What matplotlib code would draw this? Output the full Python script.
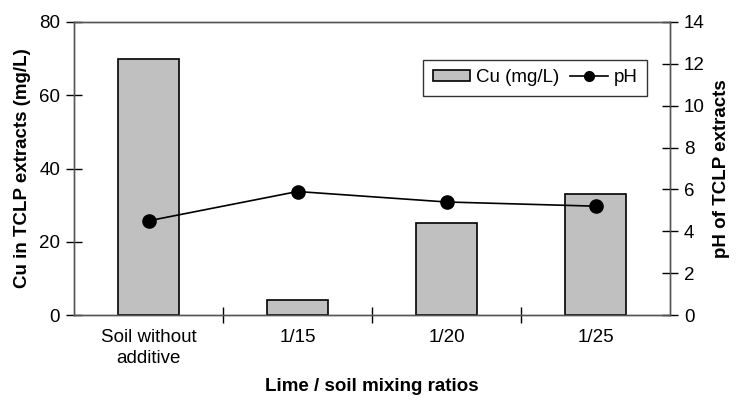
import matplotlib
matplotlib.use("Agg")
import matplotlib.pyplot as plt
from matplotlib.lines import Line2D
import numpy as np

categories = ["Soil without\nadditive", "1/15", "1/20", "1/25"]
cu_mg_l = [70, 4, 25, 33]
ph_values = [4.5, 5.9, 5.4, 5.2]

plt.rcParams["font.family"] = ["Liberation Sans", "DejaVu Sans"]

fig = plt.figure(figsize=(7.36, 4.0), dpi=100)
ax = fig.add_axes([74 / 736, 85 / 400, 596 / 736, 293 / 400])
ax2 = ax.twinx()

x = np.arange(len(categories))
bars = ax.bar(x, cu_mg_l, width=0.41, color="#c0c0c0", edgecolor="black",
              linewidth=1.2, label="Cu (mg/L)", zorder=2)
ax2.plot(x, ph_values, color="black", linewidth=1.2, marker="o",
         markersize=9.5, label="pH", zorder=3)

ax.set_xlim(-0.5, len(categories) - 0.5)
ax.set_ylim(0, 80)
ax.set_yticks(range(0, 81, 20))
ax2.set_ylim(0, 14)
ax2.set_yticks(range(0, 15, 2))

# category ticks sit on the boundaries between groups
ax.set_xticks(x)
ax.set_xticklabels(categories, fontsize=13.5, linespacing=1.3)
ax.tick_params(axis="x", length=0, pad=10)
ax.set_xticks(np.arange(0.5, len(categories) - 1, 1), minor=True)
ax.tick_params(axis="x", which="minor", length=12, direction="inout", width=1)

ax.tick_params(axis="y", labelsize=13.5, length=12, direction="inout", width=1, pad=4)
ax2.tick_params(axis="y", labelsize=13.5, length=12, direction="inout", width=1, pad=4)

for a in (ax, ax2):
    for s in a.spines.values():
        s.set_color("#555555")
        s.set_linewidth(1.0)

ax.set_ylabel("Cu in TCLP extracts (mg/L)", fontsize=13.5, fontweight="bold",
              labelpad=6)
ax2.set_ylabel("pH of TCLP extracts", fontsize=13.5, fontweight="bold",
               rotation=90, labelpad=6)
ax.set_xlabel("Lime / soil mixing ratios", fontsize=13.5, fontweight="bold",
              labelpad=8)

ax.set_zorder(ax2.get_zorder() - 1)
ax.patch.set_visible(True)
ax2.patch.set_visible(False)

ph_handle = Line2D([], [], color="black", linewidth=1.2, marker="o", markersize=7)
leg = ax2.legend([bars, ph_handle], ["Cu (mg/L)", "pH"], ncol=2,
                 loc="upper right", bbox_to_anchor=(0.961, 0.870),
                 borderaxespad=0, fontsize=13.5, frameon=True, fancybox=False,
                 edgecolor="black", handlelength=2.0, handleheight=0.5,
                 handletextpad=0.3, columnspacing=0.6, borderpad=0.5)
leg.get_frame().set_linewidth(1.0)

fig.savefig("out.png", dpi=100)
